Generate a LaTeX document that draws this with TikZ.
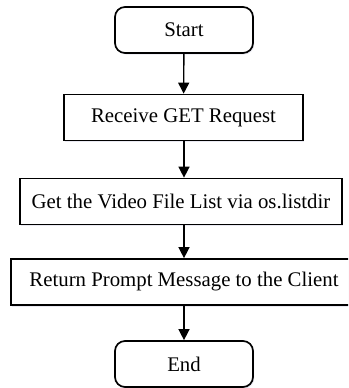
\documentclass[tikz,border=0pt]{standalone}
\usepackage{fontspec}
\setmainfont{Liberation Serif}
\usetikzlibrary{arrows.meta,shadows}
\begin{document}
\begin{tikzpicture}[x=1pt,y=-1pt,
  base/.style={draw=black, line width=1.7pt, fill=white, align=center,
    font=\fontsize{20.8}{23}\selectfont, inner sep=0pt,
    drop shadow={shadow xshift=1.2pt, shadow yshift=-1.5pt, fill=blue!25!gray!40, opacity=0.35}},
  terminal/.style={base, rounded corners=10pt, minimum width=138pt, minimum height=46pt},
  process/.style={base, minimum height=46pt},
  flow/.style={line width=1.4pt, -{Triangle[length=11pt,width=11pt]}}]
  \useasboundingbox (0,0) rectangle (348,388);
  \clip (0,0) rectangle (348,388);
  \node[terminal] (start) at (184,30) {Start};
  \node[process, minimum width=239pt] (recv) at (183.5,117.5) {Receive GET Request};
  \node[process, minimum width=322pt] (list) at (181,201.5) {Get the Video File List via os.listdir};
  \node[process, minimum width=346pt] (ret) at (184,282) {Return Prompt Message to the Client};
  \node[terminal] (end) at (184,364) {End};
  \draw[flow] (start) -- (recv);
  \draw[flow] (recv.south -| start) -- (list.north -| start);
  \draw[flow] (list.south -| start) -- (ret.north -| start);
  \draw[flow] (ret.south -| start) -- (end);
\end{tikzpicture}
\end{document}
